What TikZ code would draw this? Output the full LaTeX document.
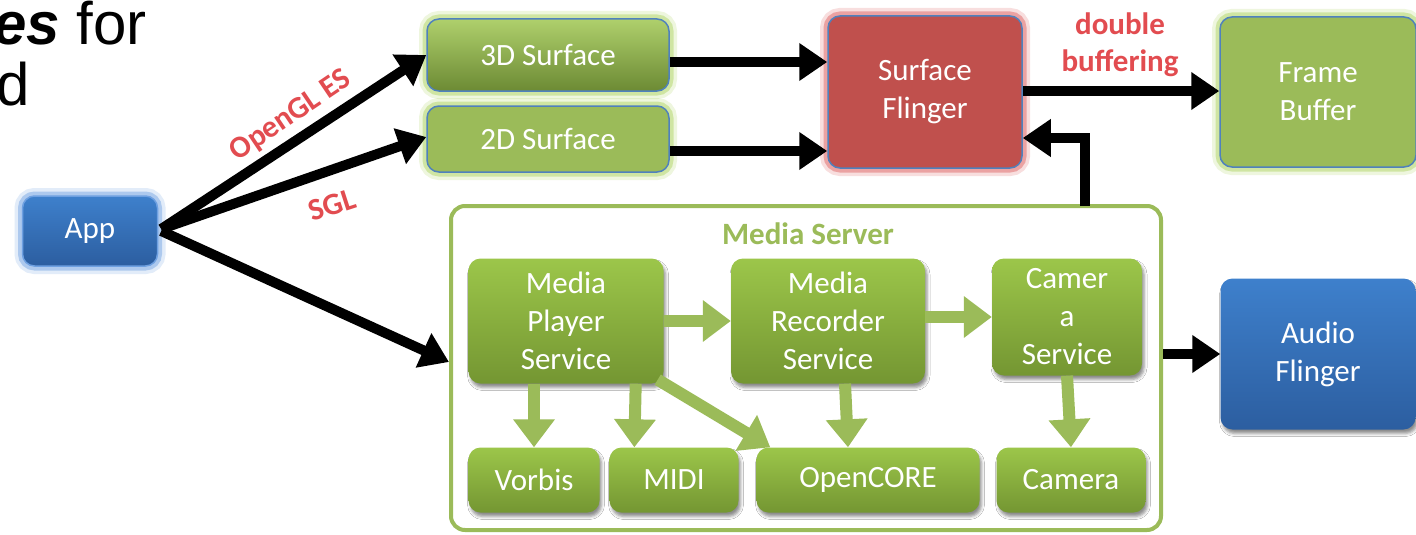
\documentclass[tikz,border=0pt]{standalone}
\usepackage{fontspec}
\setmainfont{Carlito}
\newfontfamily\arialfont{Liberation Sans}
\usetikzlibrary{arrows.meta,shadows.blur,calc}
\definecolor{ogreen}{RGB}{155,187,89}
\definecolor{oblue}{RGB}{79,129,189}
\definecolor{ored}{RGB}{192,80,77}
\definecolor{gtop}{RGB}{156,198,74}
\definecolor{gbot}{RGB}{116,150,50}
\definecolor{btop}{RGB}{62,128,204}
\definecolor{bbot}{RGB}{44,94,160}
\definecolor{lblred}{RGB}{226,76,80}
\definecolor{glowg}{RGB}{170,210,90}
\definecolor{glowr}{RGB}{220,90,90}
\definecolor{glowb}{RGB}{110,160,225}
\tikzset{
  box/.style={rounded corners=12pt, align=center, text=white, inner sep=0pt,
    font=\fontsize{31}{38}\selectfont},
  glow/.style={preaction={draw=#1, line width=16pt, opacity=0.2},
               preaction={draw=#1, line width=9pt, opacity=0.45}},
  flatg/.style={box, fill=ogreen, draw=oblue, line width=1.5pt, glow=glowg},
  innerg/.style={box, top color=gtop, bottom color=gbot, draw=none,
    blur shadow={shadow xshift=2pt, shadow yshift=-4pt, shadow blur radius=3pt, shadow opacity=45}},
  bluebox/.style={box, top color=btop, bottom color=bbot},
  barrow/.style={line width=10pt, draw=black, -{Triangle[length=28pt,width=36pt]}},
  garrow/.style={line width=12pt, draw=ogreen, -{Triangle[length=28pt,width=40pt]}},
  lbl/.style={text=lblred, font=\bfseries\fontsize{31}{37}\selectfont, inner sep=0pt, align=center}
}
\begin{document}
\begin{tikzpicture}[x=1pt,y=-1pt]
\useasboundingbox[fill=white] (0,0) rectangle (1416,535);

% title fragment
\node[anchor=base east, inner sep=0pt, font=\arialfont\fontsize{60}{64}\selectfont] (t1) at (147,45) {\textbf{\textit{es}} for};
\node[anchor=base east, inner sep=0pt, font=\arialfont\fontsize{60}{64}\selectfont] (t2) at (30,105) {d};

% top row
\node[bluebox, draw=glowb, line width=1.5pt, glow=glowb, minimum width=135pt, minimum height=70pt] (app) at (90,231) {App};
\node[box, top color={rgb,255:red,175;green,208;blue,108}, bottom color={rgb,255:red,108;green,138;blue,52}, draw=oblue, line width=1.5pt, glow=glowg, minimum width=242pt, minimum height=72pt] (s3d) at (548,55) {3D Surface};
\node[flatg, minimum width=242pt, minimum height=66pt] (s2d) at (548,139) {2D Surface};
\node[box, fill=ored, draw=oblue, line width=1.5pt, glow=glowr, minimum width=194pt, minimum height=152pt] (sf) at (925,92) {Surface\\Flinger};
\node[flatg, minimum width=196pt, minimum height=150pt] (fb) at (1318,92) {Frame\\Buffer};

% media server
\node[draw=ogreen, line width=4pt, rounded corners=14pt, fill=white, minimum width=710pt, minimum height=324pt, inner sep=0pt] (ms) at (806,368) {};
\node[text=ogreen, font=\bfseries\fontsize{31}{38}\selectfont, inner sep=0pt] (mst) at (808,234) {Media Server};

\node[innerg, minimum width=195pt, minimum height=125pt] (mps) at (566,321) {Media\\Player\\Service};
\node[innerg, minimum width=194pt, minimum height=125pt] (mrs) at (828,321) {Media\\Recorder\\Service};
\node[innerg, minimum width=150pt, minimum height=117pt] (cs) at (1067,317) {Camer\\a\\Service};
\node[innerg, minimum width=131pt, minimum height=65pt] (vorbis) at (534,480) {Vorbis};
\node[innerg, minimum width=129pt, minimum height=65pt] (midi) at (674,480) {MIDI};
\node[innerg, minimum width=223pt, minimum height=65pt] (oc) at (868,480) {OpenCORE};
\node[innerg, minimum width=149pt, minimum height=65pt] (cam) at (1071,480) {Camera};

\node[bluebox, draw=none, blur shadow={shadow xshift=2pt, shadow yshift=-4pt, shadow blur radius=3pt, shadow opacity=45}, minimum width=195pt, minimum height=151pt] (af) at (1318,354) {Audio\\Flinger};

% black connectors
\draw[barrow] ([xshift=3pt,yshift=2pt]app.east) -- (s3d.west);
\draw[barrow] ([xshift=3pt,yshift=2pt]app.east) -- ([yshift=2pt]s2d.west);
\draw[barrow] ([xshift=3pt]app.east) -- ([yshift=6pt]ms.west);
\draw[barrow] ([yshift=-7pt]s3d.east) -- ([yshift=-7pt]s3d.east -| sf.west);
\draw[barrow] ([yshift=-12pt]s2d.east) -- ([yshift=-12pt]s2d.east -| sf.west);
\draw[barrow] ([yshift=1pt]sf.east) -- ([yshift=1pt]sf.east -| fb.west);
\coordinate (fbk) at (1085,206);
\draw[barrow] (fbk) |- ([yshift=-46pt]sf.east);
\draw[barrow] (af.west -| ms.east) -- (af.west);

% labels
\node[lbl, rotate=34] (lgl) at (291,116) {OpenGL ES};
\node[lbl, rotate=18] (lsgl) at (332,205) {SGL};
\node[lbl] (ldb) at (1120,45) {double\\buffering};

% green connectors
\draw[garrow] (mps.east) -- (mrs.west);
\draw[garrow] (mrs.east |- cs.west) -- (cs.west);
\draw[garrow] (vorbis.north |- mps.south) -- (vorbis.north);
\draw[garrow] ($(mps.south east)+(-28,0)$) -- ($(midi.north west)+(25,0)$);
\draw[garrow] ($(mps.south east)+(-6,-4)$) -- ($(oc.north west)+(14,0)$);
\draw[garrow] ($(mrs.south)+(17,0)$) -- ($(oc.north)+(-20,0)$);
\draw[garrow] (cs.south) -- (cam.north);
\end{tikzpicture}
\end{document}
